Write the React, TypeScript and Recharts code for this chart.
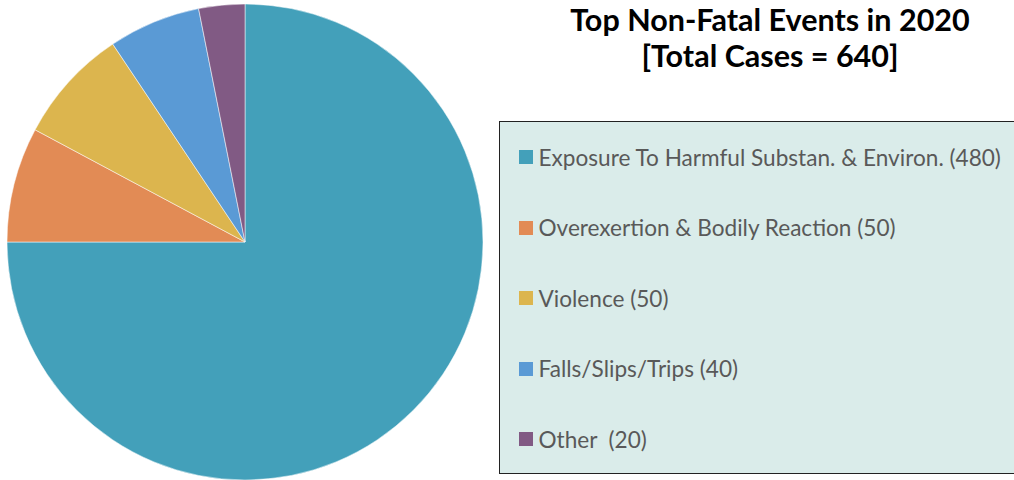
import { Legend, Pie, PieChart, Cell } from "recharts";

const categories = [
  "Exposure To Harmful Substan. & Environ.",
  "Overexertion & Bodily Reaction",
  "Violence",
  "Falls/Slips/Trips",
  "Other ",
];
const cases = [480, 50, 50, 40, 20];
const colors = ["#43A0BA", "#E28B55", "#DCB54E", "#5A9AD5", "#815A84"];

const titleLines = ["Top Non-Fatal Events in 2020", "[Total Cases = 640]"];

const data = categories.map((name, i) => ({ name, value: cases[i] }));

const FONT = "Lato, 'Open Sans', sans-serif";

// legend drawn from the arrays so the order stays as in the source
function LegendBox() {
  return (
    <div
      style={{
        width: 530,
        height: 353,
        background: "#DAECEA",
        border: "1.5px solid #222",
        boxSizing: "border-box",
        paddingTop: 0,
        paddingLeft: 18.5,
      }}
    >
      {categories.map((name, i) => (
        <div
          key={name}
          style={{
            display: "flex",
            alignItems: "center",
            height: 70.5,
            fontFamily: FONT,
            fontSize: 22.6,
            color: "#595959",
            whiteSpace: "pre",
          }}
        >
          <span style={{ display: "inline-block", width: 14, height: 14, background: colors[i], marginRight: 6 }} />
          {`${name} (${cases[i]})`}
        </div>
      ))}
    </div>
  );
}

export default function App() {
  return (
    <div style={{ position: "absolute", left: 0, top: 0, width: 1014, height: 480, background: "#fff", overflow: "hidden" }}>
      <div
        style={{
          position: "absolute",
          left: 540,
          width: 460,
          top: 1,
          textAlign: "center",
          fontFamily: FONT,
          fontWeight: 700,
          fontSize: 30.5,
          lineHeight: "36px",
          color: "#000",
        }}
      >
        {titleLines.map((t) => (
          <div key={t}>{t}</div>
        ))}
      </div>
      <PieChart
        width={1014}
        height={480}
        margin={{ top: 0, right: 0, bottom: 0, left: 0 }}
        style={{ position: "absolute", left: 0, top: 0 }}
      >
        <Pie
          data={data}
          dataKey="value"
          nameKey="name"
          cx={245}
          cy={242}
          outerRadius={238}
          startAngle={90}
          endAngle={-270}
          stroke="#ffffff"
          strokeWidth={0.5}
          isAnimationActive={false}
        >
          {data.map((d, i) => (
            <Cell key={d.name} fill={colors[i]} />
          ))}
        </Pie>
        <Legend
          layout="vertical"
          align="right"
          verticalAlign="top"
          content={() => <LegendBox />}
          wrapperStyle={{ position: "absolute", left: 499, top: 121, width: 530 }}
        />
      </PieChart>
    </div>
  );
}
